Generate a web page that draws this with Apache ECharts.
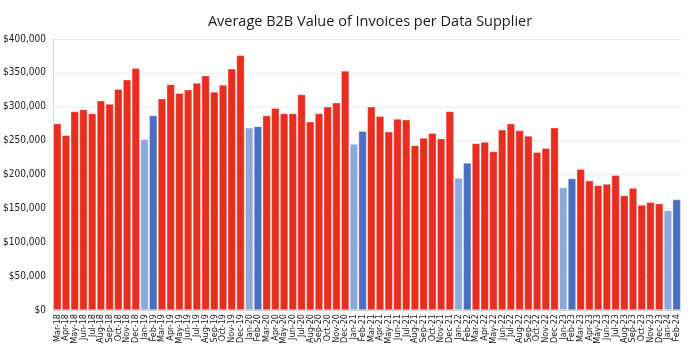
<!DOCTYPE html>
<html>
<head>
<meta charset="utf-8">
<script src="https://cdn.jsdelivr.net/npm/echarts@6/dist/echarts.min.js"></script>
<style>
    html, body { margin: 0; padding: 0; background: #fff; }
    #chart { width: 692px; height: 354px; }
</style>
</head>
<body>
<div id="chart"></div>
<script>
let months = [
    "Mar-18", "Apr-18", "May-18", "Jun-18", "Jul-18", "Aug-18", "Sep-18", "Oct-18", "Nov-18", "Dec-18",
    "Jan-19", "Feb-19", "Mar-19", "Apr-19", "May-19", "Jun-19", "Jul-19", "Aug-19", "Sep-19", "Oct-19", "Nov-19", "Dec-19",
    "Jan-20", "Feb-20", "Mar-20", "Apr-20", "May-20", "Jun-20", "Jul-20", "Aug-20", "Sep-20", "Oct-20", "Nov-20", "Dec-20",
    "Jan-21", "Feb-21", "Mar-21", "Apr-21", "May-21", "Jun-21", "Jul-21", "Aug-21", "Sep-21", "Oct-21", "Nov-21", "Dec-21",
    "Jan-22", "Feb-22", "Mar-22", "Apr-22", "May-22", "Jun-22", "Jul-22", "Aug-22", "Sep-22", "Oct-22", "Nov-22", "Dec-22",
    "Jan-23", "Feb-23", "Mar-23", "Apr-23", "May-23", "Jun-23", "Jul-23", "Aug-23", "Sep-23", "Oct-23", "Nov-23", "Dec-23",
    "Jan-24", "Feb-24"
];

let avgValues = [
    275000, 258000, 293000, 296000, 290000, 309000, 304000, 326000, 340000, 357000,
    252000, 287000, 312000, 333000, 320000, 325000, 335000, 346000, 322000, 332000, 356000, 376000,
    269000, 271000, 287000, 298000, 290000, 290000, 318000, 278000, 290000, 300000, 306000, 353000,
    245000, 264000, 300000, 286000, 263000, 282000, 281000, 243000, 254000, 261000, 253000, 293000,
    195000, 217000, 246000, 248000, 234000, 266000, 275000, 265000, 257000, 233000, 239000, 269000,
    181000, 194000, 208000, 191000, 184000, 186000, 199000, 169000, 180000, 155000, 159000, 157000,
    147000, 163000
];

let yTicks = [0, 50000, 100000, 150000, 200000, 250000, 300000, 350000, 400000];

function barColor(month) {
    if (month.startsWith("Jan")) return "#8fa8da";
    if (month.startsWith("Feb")) return "#4a6ec0";
    return "#e82e20";
}

let chart = echarts.init(document.getElementById("chart"));
let option = {
    animation: false,
    title: {
        text: "Average B2B Value of Invoices per Data Supplier",
        left: 365,
        textAlign: "center",
        top: 9,
        textStyle: {
            fontFamily: "Open Sans",
            fontSize: 14.5,
            fontWeight: "normal",
            color: "#1a1a1a"
        }
    },
    grid: {
        left: 51,
        right: 11,
        top: 39,
        bottom: 44
    },
    xAxis: {
        type: "category",
        data: months,
        axisTick: { show: false },
        axisLine: { lineStyle: { color: "#cfcfcf" } },
        axisLabel: {
            rotate: 90,
            interval: 0,
            fontSize: 9,
            fontFamily: "DejaVu Sans Condensed",
            color: "#222",
            margin: 4
        }
    },
    yAxis: {
        type: "value",
        min: yTicks[0],
        max: yTicks[yTicks.length - 1],
        interval: 50000,
        axisLine: { show: true, lineStyle: { color: "#d9d9d9" } },
        axisTick: { show: false },
        splitLine: { lineStyle: { color: "#ececec" } },
        axisLabel: {
            fontSize: 10,
            fontFamily: "DejaVu Sans Condensed",
            color: "#222",
            margin: 7,
            formatter: function (value) {
                return "$" + value.toLocaleString("en-US");
            }
        }
    },
    series: [
        {
            type: "bar",
            barCategoryGap: "8%",
            data: avgValues.map((v, i) => ({
                value: v,
                itemStyle: {
                    color: barColor(months[i]),
                    borderColor: "rgba(255,255,255,0.55)",
                    borderWidth: 0.6
                }
            }))
        }
    ]
};
chart.setOption(option);
</script>
</body>
</html>
